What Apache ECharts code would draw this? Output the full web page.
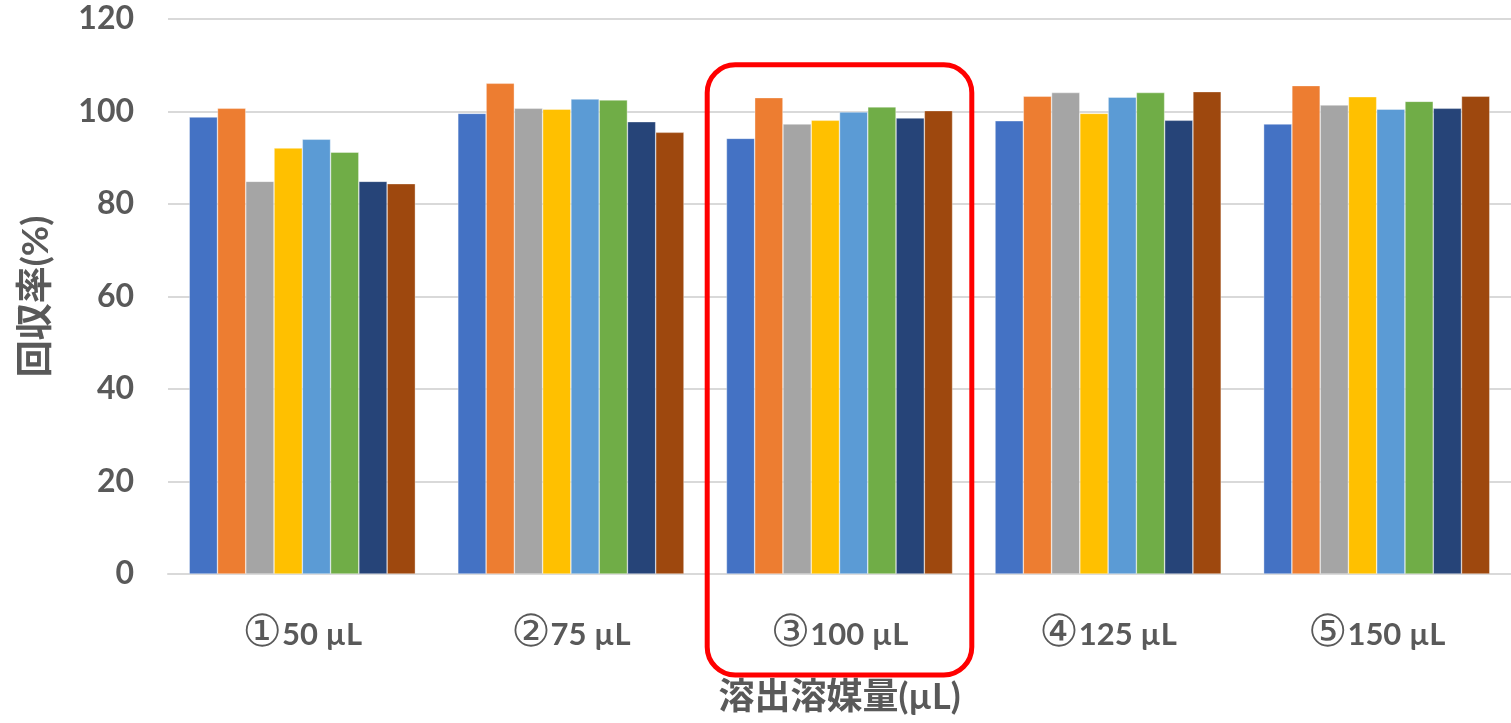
<!DOCTYPE html>
<html>
<head>
<meta charset="utf-8">
<script src="https://cdn.jsdelivr.net/npm/echarts@6/dist/echarts.min.js"></script>
<style>
html, body { margin: 0; padding: 0; background: #fff; }
#chart { width: 1511px; height: 723px; }
</style>
</head>
<body>
<div id="chart"></div>
<script>
// Elution solvent volumes
const categories = ['①50 µL', '②75 µL', '③100 µL', '④125 µL', '⑤150 µL'];

// Recovery (%) per compound, one array per series
const seriesA = [98.8, 99.6, 94.2, 98.0, 97.3];
const seriesB = [100.7, 106.1, 103.0, 103.3, 105.6];
const seriesC = [84.9, 100.7, 97.3, 104.1, 101.4];
const seriesD = [92.1, 100.5, 98.1, 99.6, 103.2];
const seriesE = [94.0, 102.7, 99.9, 103.1, 100.5];
const seriesF = [91.2, 102.5, 101.0, 104.1, 102.2];
const seriesG = [84.9, 97.8, 98.6, 98.1, 100.7];
const seriesH = [84.4, 95.5, 100.2, 104.3, 103.3];

const yTicks = [0, 20, 40, 60, 80, 100, 120];

// Highlighted condition
const highlightIndex = 2;
const highlightTopValue = 110.1;

const seriesData = [seriesA, seriesB, seriesC, seriesD, seriesE, seriesF, seriesG, seriesH];
const colors = ['#4472C4', '#ED7D31', '#A5A5A5', '#FFC000', '#5B9BD5', '#70AD47', '#264478', '#9E480E'];
const seriesNames = ['A', 'B', 'C', 'D', 'E', 'F', 'G', 'H'];

const textColor = '#595959';
const font = "Lato, 'Noto Sans CJK JP', sans-serif";

const chart = echarts.init(document.getElementById('chart'), null, { renderer: 'canvas' });

// Category label: circled number drawn larger and light, the volume in bold
function categoryLabel(value) {
  const mark = value.charAt(0);
  const rest = value.slice(1);
  return '{c|' + mark + '}{v|' + rest + '}';
}

chart.setOption({
  animation: false,
  backgroundColor: '#ffffff',
  grid: { left: 168, right: 0, top: 19, bottom: 149, containLabel: false, outerBoundsMode: 'none' },
  xAxis: {
    type: 'category',
    data: categories,
    name: '溶出溶媒量(µL)',
    nameLocation: 'middle',
    nameGap: 105,
    nameTextStyle: { color: textColor, fontSize: 36, fontWeight: 'bold', fontFamily: font },
    axisLine: { show: true, lineStyle: { color: '#d9d9d9', width: 2 } },
    axisTick: { show: false },
    axisLabel: {
      margin: 41,
      formatter: categoryLabel,
      rich: {
        c: { color: textColor, fontSize: 44, fontWeight: 'normal', fontFamily: "'DejaVu Sans', sans-serif", verticalAlign: 'middle', height: 40 },
        v: { color: textColor, fontSize: 31, fontWeight: 'bold', fontFamily: font, verticalAlign: 'middle', height: 40 }
      }
    }
  },
  yAxis: {
    type: 'value',
    min: yTicks[0],
    max: yTicks[yTicks.length - 1],
    interval: 20,
    name: '回収率(%)',
    nameLocation: 'middle',
    nameGap: 113,
    nameTextStyle: { color: textColor, fontSize: 37, fontWeight: 'bold', fontFamily: font },
    axisLine: { show: false },
    axisTick: { show: false },
    axisLabel: { color: textColor, fontSize: 32, fontWeight: 'bold', fontFamily: font, margin: 34 },
    splitLine: { lineStyle: { color: '#d9d9d9', width: 2 } }
  },
  series: seriesData.map((d, i) => ({
    name: seriesNames[i],
    type: 'bar',
    data: d,
    barGap: '0%',
    barCategoryGap: '15.8%',
    itemStyle: { color: colors[i], borderColor: 'rgba(255,255,255,0.6)', borderWidth: 0.6 }
  }))
});

// Rounded frame around the highlighted condition, placed from the axis scales
function drawFrame() {
  const grid = chart.getModel().getComponent('grid').coordinateSystem.getRect();
  const bandWidth = grid.width / categories.length;
  const cx = chart.convertToPixel({ xAxisIndex: 0 }, highlightIndex);
  const top = chart.convertToPixel({ yAxisIndex: 0 }, highlightTopValue);
  const axisY = chart.convertToPixel({ yAxisIndex: 0 }, 0);
  const bottom = axisY + 101;
  chart.setOption({
    graphic: [{
      type: 'rect',
      shape: { x: cx - bandWidth / 2 + 2, y: top, width: bandWidth - 4, height: bottom - top, r: 28 },
      style: { fill: 'none', stroke: '#FF0000', lineWidth: 5 },
      z: 100
    }]
  });
}
drawFrame();
</script>
</body>
</html>
